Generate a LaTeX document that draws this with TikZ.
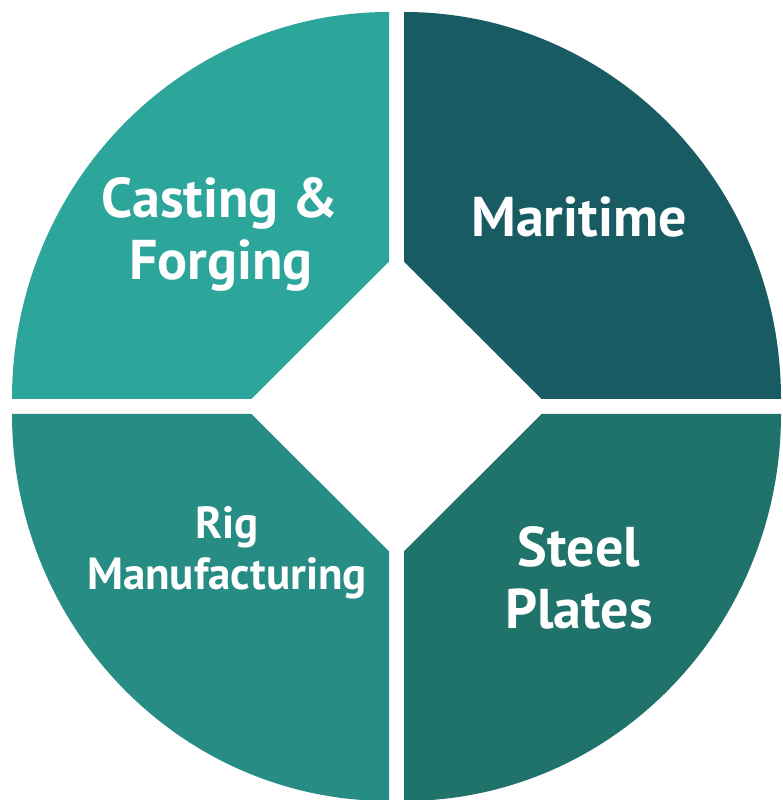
\documentclass[tikz,border=0pt]{standalone}
\usepackage{fontspec}
\setmainfont{PT Sans}
\definecolor{qtl}{RGB}{44,165,155}
\definecolor{qtr}{RGB}{24,91,99}
\definecolor{qbl}{RGB}{38,140,132}
\definecolor{qbr}{RGB}{31,115,107}
\begin{document}
\begin{tikzpicture}[x=1pt,y=1pt,
  bigtxt/.style={text=white,font=\fontsize{56}{62}\selectfont\bfseries,anchor=base,inner sep=0pt},
  smalltxt/.style={text=white,font=\fontsize{45}{52}\selectfont\bfseries,anchor=base,inner sep=0pt}]
\useasboundingbox (0,0) rectangle (782,800);
\fill[white] (0,0) rectangle (782,800);
% quadrants
\fill[qtl] (389,401) -- (12,401) arc[start angle=180,end angle=90,x radius=377,y radius=387] -- cycle;
\fill[qtr] (404,401) -- (404,788) arc[start angle=90,end angle=0,x radius=377,y radius=387] -- cycle;
\fill[qbl] (389,386) -- (389,-1) arc[start angle=270,end angle=180,x radius=377,y radius=387] -- cycle;
\fill[qbr] (404,386) -- (781,386) arc[start angle=0,end angle=-90,x radius=377,y radius=387] -- cycle;
% central diamond
\fill[white] (396.5,545.5) -- (549,393.5) -- (396.5,241.5) -- (244,393.5) -- cycle;
% labels
\node[bigtxt] (cast) at (220,582) {Casting \&};
\node[bigtxt] (forg) at (221,520) {Forging};
\node[bigtxt] (mari) at (579,563) {Maritime};
\node[smalltxt] (rig) at (227,261) {Rig};
\node[smalltxt] (manu) at (227,210) {Manufacturing};
\node[bigtxt] (steel) at (579,233) {Steel};
\node[bigtxt] (plat) at (579,171) {Plates};
\end{tikzpicture}
\end{document}
